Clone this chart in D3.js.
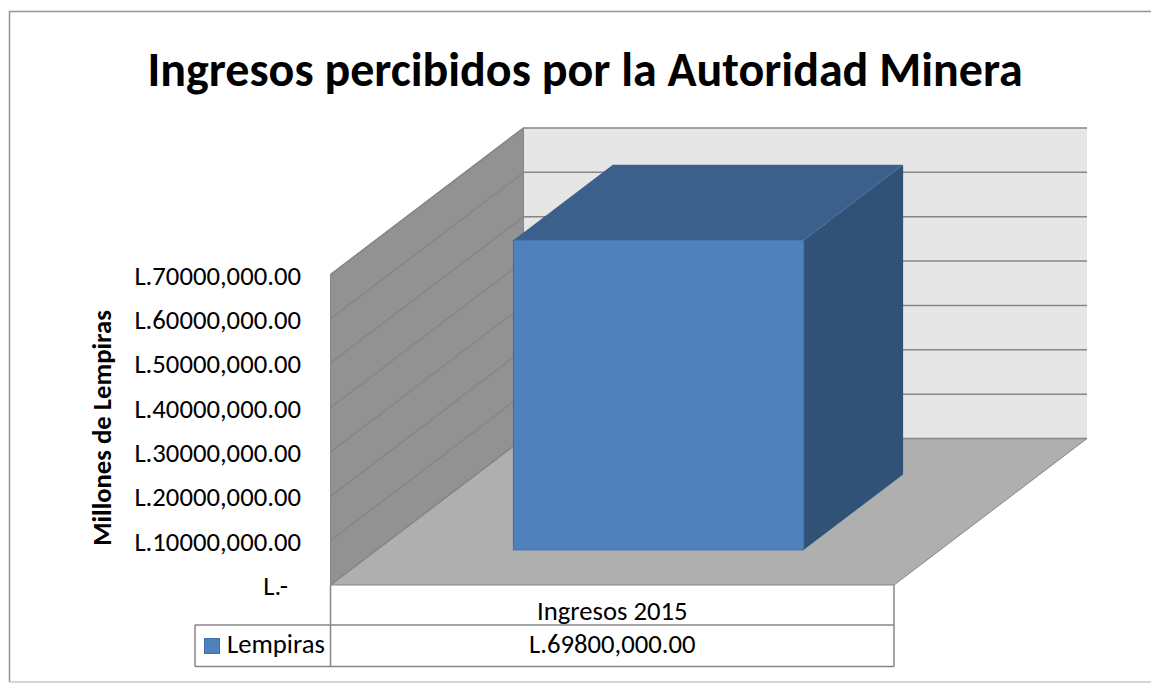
<!DOCTYPE html>
<html>
<head>
<meta charset="utf-8">
<script src="https://cdn.jsdelivr.net/npm/d3@7/dist/d3.min.js"></script>
<style>
  html, body { margin: 0; padding: 0; background: #fff; }
  svg { display: block; }
  text { font-family: Carlito, "Open Sans", "Liberation Sans", sans-serif; fill: #000; }
</style>
</head>
<body>
<div id="chart"></div>
<script>
const categories = ["Ingresos 2015"];
const seriesName = "Lempiras";
const seriesValues = [69800000];
const tickValues = [0, 10000000, 20000000, 30000000, 40000000, 50000000, 60000000, 70000000];
const tickLabels = ["L.-", "L.10000,000.00", "L.20000,000.00", "L.30000,000.00", "L.40000,000.00", "L.50000,000.00", "L.60000,000.00", "L.70000,000.00"];
const tableLabels = ["L.69800,000.00"];

const svg = d3.select("#chart").append("svg")
  .attr("width", 1151)
  .attr("height", 683);

// Outer chart frame, the right edge is cut off by the window
svg.append("path")
  .attr("d", "M1151,11.5H9.5V682")
  .attr("fill", "none")
  .attr("stroke", "#959595")
  .attr("stroke-width", 1.5);
svg.append("path")
  .attr("d", "M9.5,682H1151")
  .attr("fill", "none")
  .attr("stroke", "#c8c8c8")
  .attr("stroke-width", 1.5);

svg.append("text")
  .attr("x", 585).attr("y", 86)
  .attr("text-anchor", "middle")
  .attr("font-size", 48)
  .attr("font-weight", "bold")
  .text("Ingresos percibidos por la Autoridad Minera");

// Scales for the front plane, depth is a 0-1 shift towards the back wall
const x = d3.scaleBand().domain(categories).range([330.5, 894]).padding(0.32);
const y = d3.scaleLinear().domain([0, 70000000]).range([585, 274.5]);
const z = d3.scaleLinear().domain([0, 1]).range([0, 1]);
const depthX = 193;
const depthY = -146.5;

// Project a point in chart units to the page
const px = (xp, d) => xp + z(d) * depthX;
const py = (v, d) => y(v) + z(d) * depthY;
const poly = pts => pts.map(p => p.join(",")).join(" ");

const xLeft = x.range()[0];
const xRight = x.range()[1];
const yMax = y.domain()[1];
const lineColor = "#868686";

// Back wall
svg.append("polygon")
  .attr("points", poly([[px(xLeft, 1), py(0, 1)], [px(xRight, 1), py(0, 1)], [px(xRight, 1), py(yMax, 1)], [px(xLeft, 1), py(yMax, 1)]]))
  .attr("fill", "#e6e6e6");

// Side wall
svg.append("polygon")
  .attr("points", poly([[px(xLeft, 0), py(0, 0)], [px(xLeft, 1), py(0, 1)], [px(xLeft, 1), py(yMax, 1)], [px(xLeft, 0), py(yMax, 0)]]))
  .attr("fill", "#929292")
  .attr("stroke", lineColor);

// Floor
svg.append("polygon")
  .attr("points", poly([[px(xLeft, 0), py(0, 0)], [px(xRight, 0), py(0, 0)], [px(xRight, 1), py(0, 1)], [px(xLeft, 1), py(0, 1)]]))
  .attr("fill", "#afafaf")
  .attr("stroke", lineColor);

// Gridlines across side wall and back wall
svg.selectAll(".grid")
  .data(tickValues)
  .enter()
  .append("polyline")
  .attr("class", "grid")
  .attr("points", d => poly([[px(xLeft, 0), py(d, 0)], [px(xLeft, 1), py(d, 1)], [px(xRight, 1), py(d, 1)]]))
  .attr("fill", "none")
  .attr("stroke", lineColor)
  .attr("stroke-width", 1.5);

// Y axis labels
svg.selectAll(".tick-label")
  .data(tickValues)
  .enter()
  .append("text")
  .attr("class", "tick-label")
  .attr("x", (d, i) => i === 0 ? 288 : 301)
  .attr("y", d => y(d) + 10)
  .attr("text-anchor", "end")
  .attr("font-size", 26.7)
  .text((d, i) => tickLabels[i]);

svg.append("text")
  .attr("transform", "translate(111,428) rotate(-90)")
  .attr("text-anchor", "middle")
  .attr("font-size", 26.7)
  .attr("font-weight", "bold")
  .text("Millones de Lempiras");

// Bar, built as three faces
const barDepth = [0.24, 0.755];
categories.forEach((c, i) => {
  const v = seriesValues[i];
  const x0 = x(c);
  const x1 = x(c) + x.bandwidth();
  const [d0, d1] = barDepth;

  svg.append("polygon")
    .attr("points", poly([[px(x0, d0), py(v, d0)], [px(x1, d0), py(v, d0)], [px(x1, d1), py(v, d1)], [px(x0, d1), py(v, d1)]]))
    .attr("fill", "#3c608c");

  svg.append("polygon")
    .attr("points", poly([[px(x1, d0), py(0, d0)], [px(x1, d1), py(0, d1)], [px(x1, d1), py(v, d1)], [px(x1, d0), py(v, d0)]]))
    .attr("fill", "#305277");

  svg.append("rect")
    .attr("x", px(x0, d0))
    .attr("y", py(v, d0))
    .attr("width", x1 - x0)
    .attr("height", py(0, d0) - py(v, d0))
    .attr("fill", "#4f81bd")
    .attr("stroke", "#3d6ea8");
});

// Data table under the plot
const rowTop = 585, rowMid = 625, rowBottom = 666.5, legendLeft = 195;
const table = svg.append("g")
  .attr("fill", "none")
  .attr("stroke", lineColor)
  .attr("stroke-width", 1.5);
table.append("path").attr("d", `M${xLeft},${rowTop}V${rowBottom}M${xRight},${rowTop}V${rowBottom}`);
table.append("path").attr("d", `M${legendLeft},${rowMid}H${xRight}M${legendLeft},${rowBottom}H${xRight}M${legendLeft},${rowMid}V${rowBottom}`);

svg.selectAll(".cat-label")
  .data(categories)
  .enter()
  .append("text")
  .attr("class", "cat-label")
  .attr("x", d => x(d) + x.bandwidth() / 2)
  .attr("y", 620)
  .attr("text-anchor", "middle")
  .attr("font-size", 26.7)
  .text(d => d);

svg.selectAll(".val-label")
  .data(tableLabels)
  .enter()
  .append("text")
  .attr("class", "val-label")
  .attr("x", (d, i) => x(categories[i]) + x.bandwidth() / 2)
  .attr("y", 653)
  .attr("text-anchor", "middle")
  .attr("font-size", 26.7)
  .text(d => d);

// Legend key
svg.append("rect")
  .attr("x", 204.5).attr("y", 638.5)
  .attr("width", 15).attr("height", 15)
  .attr("fill", "#4f81bd")
  .attr("stroke", "#3d6ea8");

svg.append("text")
  .attr("x", 227).attr("y", 653)
  .attr("font-size", 26.7)
  .text(seriesName);
</script>
</body>
</html>
